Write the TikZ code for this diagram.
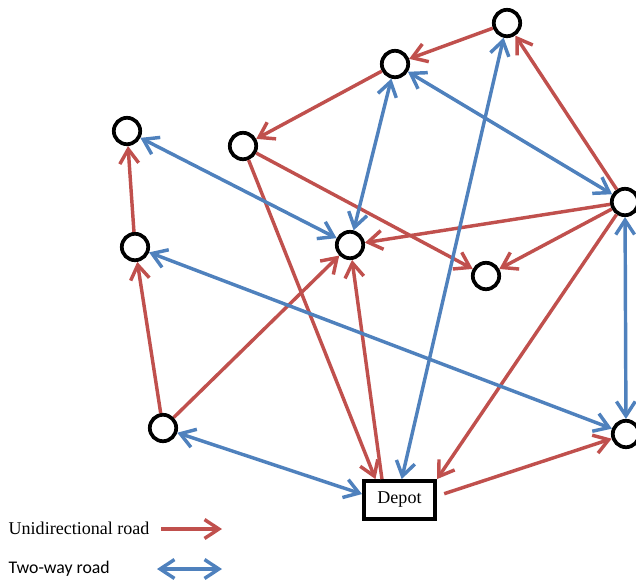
\documentclass[tikz,border=0pt]{standalone}
\usepackage{fontspec}
\setmainfont{Liberation Serif}
\newfontfamily\calibrifont{Carlito}
\usetikzlibrary{arrows.meta}

\definecolor{roadred}{HTML}{C0504D}
\definecolor{roadblue}{HTML}{4F81BD}

\begin{document}
\begin{tikzpicture}[x=0.0265cm, y=-0.0265cm, font=\fontsize{13.6}{16}\selectfont,
    halt/.style={draw, circle, line width=2.8pt, minimum size=0.7cm, inner sep=0pt},
    depotbox/.style={draw, rectangle, line width=2.8pt, minimum width=1.89cm, minimum height=1.01cm, inner sep=0pt},
    barb/.tip={Straight Barb[length=3.8mm, width=5mm]},
    oneway/.style={roadred, line width=2.6pt, -barb},
    twoway/.style={roadblue, line width=2.6pt, barb-barb}]

\useasboundingbox (0,0) rectangle (636,580);

% stops
\node[halt] (top) at (507,23) {};
\node[halt] (upper) at (395,64) {};
\node[halt] (farleft) at (127,131) {};
\node[halt] (upleft) at (243,146) {};
\node[halt] (right) at (625,202) {};
\node[halt] (left) at (135,247) {};
\node[halt] (center) at (350,245) {};
\node[halt] (lowmid) at (486,276) {};
\node[halt] (lowleft) at (163,428) {};
\node[halt] (lowright) at (626,434) {};
\node[depotbox] (depot) at (399.5,500) {Depot};

% unidirectional roads
\draw[oneway] (top) -- (upper);
\draw[oneway] (upper) -- (upleft);
\draw[oneway] (right) -- (top);
\draw[oneway] (right) -- (center);
\draw[oneway] (right) -- (lowmid);
\draw[oneway] (right) -- (depot.north east);
\draw[oneway] (upleft) -- (depot.139);
\draw[oneway] (upleft) -- (lowmid);
\draw[oneway] (left) -- (farleft);
\draw[oneway] (lowleft) -- (left);
\draw[oneway] (lowleft) -- (center);
\draw[oneway] (depot.130) -- (center);
\draw[oneway, shorten <=2mm] (depot.6) -- (lowright);

% two-way roads
\draw[twoway] (upper) -- (center);
\draw[twoway] (upper) -- (right);
\draw[twoway] (farleft) -- (center);
\draw[twoway] (top) -- (depot.84);
\draw[twoway] (left) -- (lowright);
\draw[twoway] (right) -- (lowright);
\draw[twoway] (lowleft) -- (depot.171);

% legend
\node[anchor=west] (unilabel) at (4,528) {Unidirectional road};
\coordinate (unistart) at (161,529);
\coordinate (uniend) at (222,529);
\draw[oneway] (unistart) -- (uniend);

\node[anchor=west, font=\calibrifont\fontsize{13.4}{16}\selectfont] (twolabel) at (4,569) {Two-way road};
\coordinate (twostart) at (157,569);
\coordinate (twoend) at (222,569);
\draw[twoway] (twostart) -- (twoend);

\end{tikzpicture}
\end{document}
